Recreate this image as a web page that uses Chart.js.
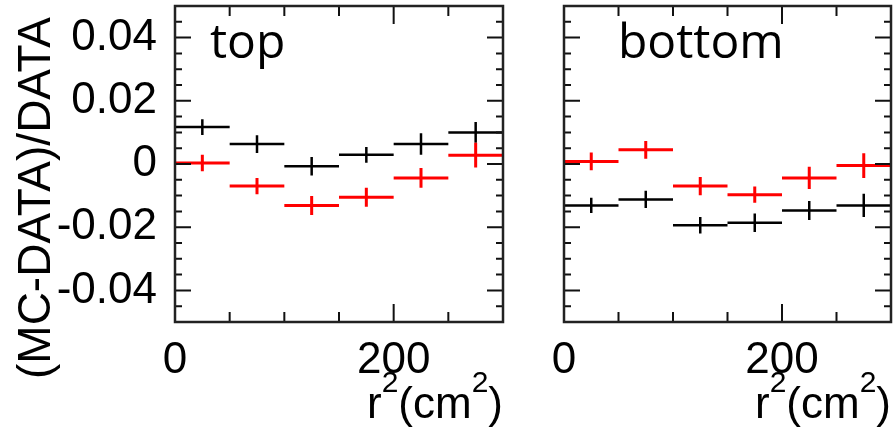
<!DOCTYPE html>
<html>
<head>
<meta charset="utf-8">
<script src="https://cdn.jsdelivr.net/npm/chart.js@4.4.1/dist/chart.umd.min.js"></script>
<style>
  body { margin: 0; background: #fff; }
  canvas { position: absolute; top: 0; }
  #topChart { left: 0; }
  #bottomChart { left: 520px; }
</style>
</head>
<body>
<canvas id="topChart" width="520" height="430"></canvas>
<canvas id="bottomChart" width="373" height="430"></canvas>
<script>
// r^2 bins (cm^2), 50 wide
const binCenters = [25, 75, 125, 175, 225, 275];
const binHalfWidth = 25;

// "top" panel
const topBlack = [0.0117, 0.0063, -0.0007, 0.0029, 0.0063, 0.0100];
const topBlackErr = [0.0025, 0.0028, 0.0029, 0.0025, 0.0034, 0.0033];
const topRed = [0.0003, -0.0070, -0.0131, -0.0105, -0.0044, 0.0028];
const topRedErr = [0.0026, 0.0026, 0.0030, 0.0030, 0.0031, 0.0039];

// "bottom" panel
const bottomBlack = [-0.0131, -0.0112, -0.0194, -0.0186, -0.0147, -0.0131];
const bottomBlackErr = [0.0024, 0.0027, 0.0026, 0.0029, 0.0030, 0.0037];
const bottomRed = [0.0008, 0.0045, -0.0070, -0.0097, -0.0044, -0.0005];
const bottomRedErr = [0.0028, 0.0028, 0.0029, 0.0026, 0.0035, 0.0039];

const yTicks = [-0.04, -0.02, 0, 0.02, 0.04];
const yTickLabels = ['-0.04', '-0.02', '0', '0.02', '0.04'];
const xTicks = [0, 200];
const xTickLabels = ['0', '200'];

function points(vals, errs) {
  return binCenters.map((x, i) => ({ x: x, y: vals[i], err: errs[i] }));
}

// horizontal bin width + vertical error bar
const crossPlugin = {
  id: 'crosses',
  afterDatasetsDraw(chart) {
    const ctx = chart.ctx, xs = chart.scales.x, ys = chart.scales.y;
    chart.data.datasets.forEach(ds => {
      ctx.save();
      ctx.strokeStyle = ds.borderColor;
      ctx.lineWidth = ds.borderWidth;
      ds.data.forEach(p => {
        const py = ys.getPixelForValue(p.y);
        const px = xs.getPixelForValue(p.x);
        ctx.beginPath();
        ctx.moveTo(xs.getPixelForValue(p.x - binHalfWidth), py);
        ctx.lineTo(xs.getPixelForValue(p.x + binHalfWidth), py);
        ctx.moveTo(px, ys.getPixelForValue(p.y - p.err));
        ctx.lineTo(px, ys.getPixelForValue(p.y + p.err));
        ctx.stroke();
      });
      ctx.restore();
    });
  }
};

// ROOT-like frame, inward ticks, panel label and axis titles
const framePlugin = {
  id: 'frame',
  afterDraw(chart, args, opts) {
    const ctx = chart.ctx, a = chart.chartArea;
    const xs = chart.scales.x, ys = chart.scales.y;
    ctx.save();
    ctx.strokeStyle = '#111';
    ctx.lineWidth = 2;
    for (let v = -0.05; v <= 0.0501; v += 0.005) {
      const y = ys.getPixelForValue(v);
      const major = Math.abs(Math.round(v * 1000) % 20) === 0;
      const len = major ? 16 : 7;
      ctx.beginPath();
      ctx.moveTo(a.left, y); ctx.lineTo(a.left + len, y);
      ctx.moveTo(a.right, y); ctx.lineTo(a.right - len, y);
      ctx.stroke();
    }
    for (let v = 0; v <= 300; v += 50) {
      const x = xs.getPixelForValue(v);
      const len = v % 200 === 0 ? 18 : 10;
      ctx.beginPath();
      ctx.moveTo(x, a.top); ctx.lineTo(x, a.top + len);
      ctx.moveTo(x, a.bottom); ctx.lineTo(x, a.bottom - len);
      ctx.stroke();
    }
    ctx.strokeStyle = '#222';
    ctx.lineWidth = 2.5;
    ctx.strokeRect(a.left, a.top, a.right - a.left, a.bottom - a.top);

    ctx.fillStyle = '#000';
    ctx.font = '48px "Open Sans"';
    ctx.textBaseline = 'alphabetic';
    ctx.textAlign = 'left';
    ctx.fillText(opts.label, a.left + opts.labelX, 58);

    // r^2(cm^2), right aligned at the axis end
    const parts = [['r', 44, 0], ['2', 30, -26], ['(cm', 44, 0], ['2', 30, -26], [')', 44, 0]];
    let total = 0;
    parts.forEach(p => { ctx.font = p[1] + 'px "Liberation Sans"'; total += ctx.measureText(p[0]).width; });
    let x = a.right - total;
    parts.forEach(p => {
      ctx.font = p[1] + 'px "Liberation Sans"';
      ctx.fillText(p[0], x, 418 + p[2]);
      x += ctx.measureText(p[0]).width;
    });

    if (opts.yTitle) {
      ctx.translate(37, 198);
      ctx.rotate(-Math.PI / 2);
      ctx.textAlign = 'center';
      ctx.textBaseline = 'middle';
      ctx.font = '46px "Liberation Sans"';
      ctx.fillText(opts.yTitle, 0, 0);
    }
    ctx.restore();
  }
};

function makeChart(id, black, blackErr, red, redErr, panel) {
  return new Chart(document.getElementById(id), {
    type: 'scatter',
    data: {
      datasets: [
        { data: points(black, blackErr), borderColor: '#000', borderWidth: 2.5, pointRadius: 0 },
        { data: points(red, redErr), borderColor: '#ff0000', borderWidth: 3, pointRadius: 0 }
      ]
    },
    options: {
      responsive: false,
      animation: false,
      layout: { padding: { top: 6, right: panel.padRight, left: 0, bottom: 0 } },
      plugins: {
        legend: { display: false },
        tooltip: { enabled: false },
        frame: panel
      },
      scales: {
        x: {
          type: 'linear',
          min: 0,
          max: 300,
          afterBuildTicks: s => { s.ticks = xTicks.map(v => ({ value: v })); },
          afterFit: s => { s.height = 108; s.paddingLeft = 0; s.paddingRight = 0; },
          grid: { display: false, drawTicks: false },
          border: { display: false },
          ticks: {
            autoSkip: false,
            maxRotation: 0,
            padding: 12,
            color: '#000',
            font: { family: 'Liberation Sans', size: 44 },
            callback: (v, i) => xTickLabels[i]
          }
        },
        y: {
          min: -0.05,
          max: 0.05,
          afterBuildTicks: s => { s.ticks = yTicks.map(v => ({ value: v })); },
          afterFit: s => { s.width = panel.yWidth; s.paddingTop = 0; s.paddingBottom = 0; },
          grid: { display: false, drawTicks: false },
          border: { display: false },
          ticks: {
            display: panel.showYLabels,
            padding: 18,
            color: '#000',
            font: { family: 'Liberation Sans', size: 44 },
            callback: (v, i) => yTickLabels[i]
          }
        }
      }
    },
    plugins: [crossPlugin, framePlugin]
  });
}

makeChart('topChart', topBlack, topBlackErr, topRed, topRedErr,
  { label: 'top', labelX: 35, yTitle: '(MC-DATA)/DATA', yWidth: 175, padRight: 17, showYLabels: true });
makeChart('bottomChart', bottomBlack, bottomBlackErr, bottomRed, bottomRedErr,
  { label: 'bottom', labelX: 54, yTitle: null, yWidth: 44, padRight: 2, showYLabels: false });
</script>
</body>
</html>
